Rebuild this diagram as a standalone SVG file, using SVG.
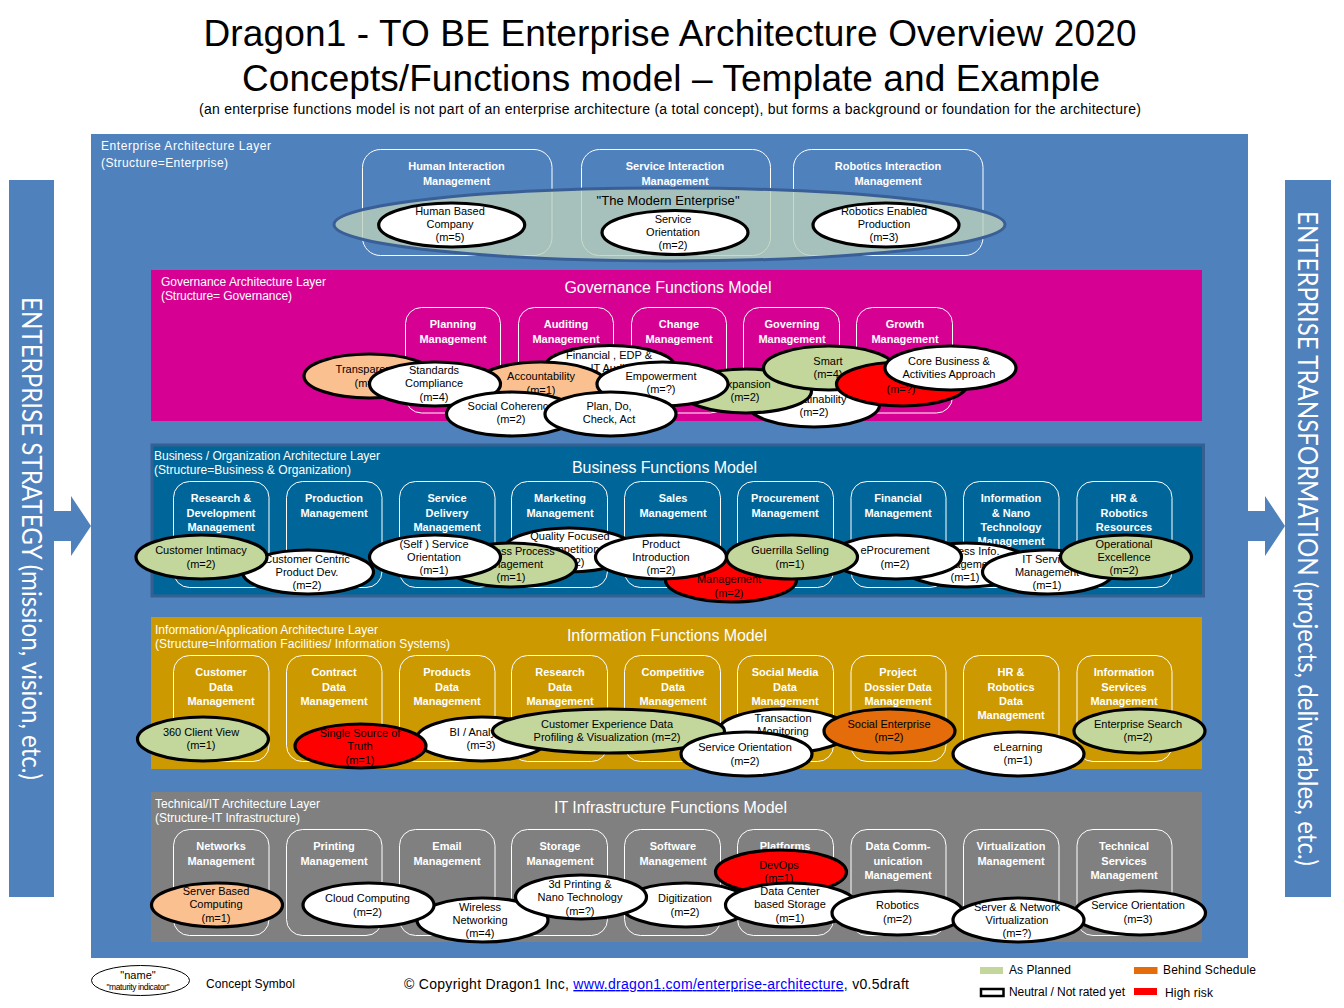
<svg xmlns="http://www.w3.org/2000/svg" width="1344" height="1008" viewBox="0 0 1344 1008">
<style>
text{font-family:"Liberation Sans",Arial,sans-serif}
.m{text-anchor:middle}
.ll{font-size:12px;fill:#fff}
.mt{font-size:16px;fill:#fff;text-anchor:middle}
.ft{font-size:11px;font-weight:bold;fill:#fff;text-anchor:middle}
.ct{font-size:11px;fill:#000;text-anchor:middle}
.fb{fill:none;stroke:#fff;stroke-width:1}
.c{stroke:#000;stroke-width:3.2}
.w{fill:#fff}.g{fill:#c3d69b}.p{fill:#fac090}.r{fill:#f00}.o{fill:#e46c0a}
.sb{fill:#4f81bd}
.st{font-family:Lato,"Liberation Sans",sans-serif;font-size:26px;fill:#fff}
.lg{font-size:12px;fill:#000}
</style>
<text x="670" y="46" class="m" font-size="37" textLength="933">Dragon1 - TO BE Enterprise Architecture Overview 2020</text>
<text x="671" y="91" class="m" font-size="37" textLength="858">Concepts/Functions model – Template and Example</text>
<text x="670" y="114" class="m" font-size="14" textLength="942">(an enterprise functions model is not part of an enterprise architecture (a total concept), but forms a background or foundation for the architecture)</text>

<rect class="sb" x="91" y="134" width="1157" height="824"/>
<g id="strategy"><rect class="sb" x="9" y="180" width="45" height="717"/><text class="st" transform="translate(22 297) rotate(90)" textLength="483" lengthAdjust="spacingAndGlyphs">ENTERPRISE STRATEGY (mission, vision, etc.)</text></g>
<g id="transformation"><rect class="sb" x="1285" y="180" width="46" height="717"/><text class="st" transform="translate(1298 211) rotate(90)" textLength="655" lengthAdjust="spacingAndGlyphs">ENTERPRISE TRANSFORMATION (projects, deliverables, etc.)</text></g>
<g id="connectors">
<polygon class="sb" points="54,511 71,511 71,496 91,526 71,556 71,541 54,541"/>
<polygon class="sb" points="1248,511 1265,511 1265,496 1285,526 1265,556 1265,541 1248,541"/>
</g>

<!-- Enterprise layer -->
<g id="enterprise-layer">
<text class="ll" x="101" y="150" textLength="170">Enterprise Architecture Layer</text>
<text class="ll" x="101" y="167" textLength="127">(Structure=Enterprise)</text>
<g id="f-human"><rect class="fb" x="362.5" y="149.5" width="189.5" height="106" rx="18"/><text class="ft"><tspan x="456.5" y="170">Human Interaction</tspan><tspan x="456.5" y="185">Management</tspan></text></g>
<g id="f-service"><rect class="fb" x="581.5" y="149.5" width="189" height="106" rx="18"/><text class="ft"><tspan x="675" y="170">Service Interaction</tspan><tspan x="675" y="185">Management</tspan></text></g>
<g id="f-robotics"><rect class="fb" x="793.5" y="149.5" width="189.5" height="106" rx="18"/><text class="ft"><tspan x="888" y="170">Robotics Interaction</tspan><tspan x="888" y="185">Management</tspan></text></g>
<g id="modern-enterprise"><ellipse cx="669.5" cy="224.5" rx="335.5" ry="36.5" fill="#bcd1bb" fill-opacity=".8" stroke="#3a5f96" stroke-width="3"/><text x="668" y="205" class="m" font-size="13" textLength="143">"The Modern Enterprise"</text></g>
<g id="c-human-company"><ellipse class="c w" cx="451.7" cy="225" rx="73" ry="22"/><text class="ct"><tspan x="450" y="215">Human Based</tspan><tspan x="450" y="228">Company</tspan><tspan x="450" y="241">(m=5)</tspan></text></g>
<g id="c-service-orientation"><ellipse class="c w" cx="675" cy="232.5" rx="73" ry="22"/><text class="ct"><tspan x="673" y="223">Service</tspan><tspan x="673" y="236">Orientation</tspan><tspan x="673" y="249">(m=2)</tspan></text></g>
<g id="c-robotics-production"><ellipse class="c w" cx="886" cy="225" rx="73" ry="22"/><text class="ct"><tspan x="884" y="215">Robotics Enabled</tspan><tspan x="884" y="228">Production</tspan><tspan x="884" y="241">(m=3)</tspan></text></g>
</g>

<!-- Governance layer -->
<g id="governance-layer">
<rect x="151" y="270" width="1051" height="151" fill="#d60093"/>
<text class="ll" x="161" y="286" textLength="165">Governance Architecture Layer</text>
<text class="ll" x="161" y="300" textLength="131">(Structure= Governance)</text>
<text class="mt" x="668" y="293" textLength="207">Governance Functions Model</text>
<g id="f-planning"><rect class="fb" x="405.5" y="307.5" width="95" height="105.5" rx="16"/><text class="ft"><tspan x="453" y="328">Planning</tspan><tspan x="453" y="343">Management</tspan></text></g>
<g id="f-auditing"><rect class="fb" x="518.5" y="307.5" width="95" height="105.5" rx="16"/><text class="ft"><tspan x="566" y="328">Auditing</tspan><tspan x="566" y="343">Management</tspan></text></g>
<g id="f-change"><rect class="fb" x="631.5" y="307.5" width="95" height="105.5" rx="16"/><text class="ft"><tspan x="679" y="328">Change</tspan><tspan x="679" y="343">Management</tspan></text></g>
<g id="f-governing"><rect class="fb" x="743.5" y="307.5" width="96" height="105.5" rx="16"/><text class="ft"><tspan x="792" y="328">Governing</tspan><tspan x="792" y="343">Management</tspan></text></g>
<g id="f-growth"><rect class="fb" x="856.5" y="307.5" width="96" height="105.5" rx="16"/><text class="ft"><tspan x="905" y="328">Growth</tspan><tspan x="905" y="343">Management</tspan></text></g>
<g id="c-transparency"><ellipse class="c p" cx="369.5" cy="376" rx="65.5" ry="22"/><text class="ct"><tspan x="369" y="373">Transparency</tspan><tspan x="369" y="387">(m=1)</tspan></text></g>
<g id="c-financial"><ellipse class="c w" cx="610" cy="367.5" rx="65.5" ry="22"/><text class="ct"><tspan x="609" y="359">Financial , EDP  &amp;</tspan><tspan x="609" y="372">IT Audit</tspan></text></g>
<g id="c-accountability"><ellipse class="c p" cx="541" cy="384" rx="65.5" ry="22"/><text class="ct"><tspan x="541" y="380">Accountability</tspan><tspan x="541" y="394">(m=1)</tspan></text></g>
<g id="c-standards"><ellipse class="c w" cx="435" cy="384" rx="65.5" ry="22"/><text class="ct"><tspan x="434" y="374">Standards</tspan><tspan x="434" y="387">Compliance</tspan><tspan x="434" y="401">(m=4)</tspan></text></g>
<g id="c-sustainability"><ellipse class="c w" cx="814" cy="405" rx="65.5" ry="22"/><text class="ct"><tspan x="814" y="403">Sustainability</tspan><tspan x="814" y="416">(m=2)</tspan></text></g>
<g id="c-expansion"><ellipse class="c g" cx="746" cy="391" rx="65.5" ry="22"/><text class="ct"><tspan x="745" y="388">Expansion</tspan><tspan x="745" y="401">(m=2)</tspan></text></g>
<g id="c-empowerment"><ellipse class="c w" cx="662.5" cy="384" rx="65.5" ry="22"/><text class="ct"><tspan x="661" y="380">Empowerment</tspan><tspan x="661" y="393">(m=?)</tspan></text></g>
<g id="c-social-coherence"><ellipse class="c w" cx="512" cy="414" rx="65.5" ry="22"/><text class="ct"><tspan x="511" y="410">Social Coherence</tspan><tspan x="511" y="423">(m=2)</tspan></text></g>
<g id="c-plan-do"><ellipse class="c w" cx="610.5" cy="414" rx="65.5" ry="22"/><text class="ct"><tspan x="609" y="410">Plan, Do,</tspan><tspan x="609" y="423">Check, Act</tspan></text></g>
<g id="c-smart"><ellipse class="c g" cx="829" cy="368" rx="65.5" ry="22"/><text class="ct"><tspan x="828" y="365">Smart</tspan><tspan x="828" y="378">(m=4)</tspan></text></g>
<g id="c-growth-risk"><ellipse class="c r" cx="902" cy="384" rx="65.5" ry="22"/><text class="ct"><tspan x="901" y="393">(m=?)</tspan></text></g>
<g id="c-core"><ellipse class="c w" cx="950.5" cy="368" rx="65.5" ry="22"/><text class="ct"><tspan x="949" y="365">Core Business &amp;</tspan><tspan x="949" y="378">Activities Approach</tspan></text></g>
</g>

<!-- Business layer -->
<g id="business-layer">
<rect x="152" y="445" width="1051.5" height="151" fill="#006699" stroke="#376092" stroke-width="3"/>
<text class="ll" x="154" y="460" textLength="226">Business / Organization Architecture Layer</text>
<text class="ll" x="154" y="474" textLength="197">(Structure=Business &amp; Organization)</text>
<text class="mt" x="664.5" y="473" textLength="185">Business Functions Model</text>
<g id="f-rd"><rect class="fb" x="173.5" y="481.5" width="95.5" height="106" rx="16"/><text class="ft"><tspan x="221" y="502">Research &amp;</tspan><tspan x="221" y="517">Development</tspan><tspan x="221" y="531">Management</tspan></text></g>
<g id="f-production"><rect class="fb" x="286.5" y="481.5" width="95.5" height="106" rx="16"/><text class="ft"><tspan x="334" y="502">Production</tspan><tspan x="334" y="517">Management</tspan></text></g>
<g id="f-delivery"><rect class="fb" x="399.5" y="481.5" width="95.5" height="106" rx="16"/><text class="ft"><tspan x="447" y="502">Service</tspan><tspan x="447" y="517">Delivery</tspan><tspan x="447" y="531">Management</tspan></text></g>
<g id="f-marketing"><rect class="fb" x="511.5" y="481.5" width="96" height="106" rx="16"/><text class="ft"><tspan x="560" y="502">Marketing</tspan><tspan x="560" y="517">Management</tspan></text></g>
<g id="f-sales"><rect class="fb" x="624.5" y="481.5" width="96" height="106" rx="16"/><text class="ft"><tspan x="673" y="502">Sales</tspan><tspan x="673" y="517">Management</tspan></text></g>
<g id="f-procurement"><rect class="fb" x="737.5" y="481.5" width="96" height="106" rx="16"/><text class="ft"><tspan x="785" y="502">Procurement</tspan><tspan x="785" y="517">Management</tspan></text></g>
<g id="f-financial"><rect class="fb" x="851" y="481.5" width="95" height="106" rx="16"/><text class="ft"><tspan x="898" y="502">Financial</tspan><tspan x="898" y="517">Management</tspan></text></g>
<g id="f-infotech"><rect class="fb" x="963.5" y="481.5" width="95.5" height="106" rx="16"/><text class="ft"><tspan x="1011" y="502">Information</tspan><tspan x="1011" y="517">&amp; Nano</tspan><tspan x="1011" y="531">Technology</tspan><tspan x="1011" y="545">Management</tspan></text></g>
<g id="f-hr"><rect class="fb" x="1077" y="481.5" width="95" height="106" rx="16"/><text class="ft"><tspan x="1124" y="502">HR &amp;</tspan><tspan x="1124" y="517">Robotics</tspan><tspan x="1124" y="531">Resources</tspan></text></g>
<g id="c-centric"><ellipse class="c w" cx="308" cy="572" rx="65.5" ry="22"/><text class="ct"><tspan x="307" y="563">Customer Centric</tspan><tspan x="307" y="576">Product Dev.</tspan><tspan x="307" y="589">(m=2)</tspan></text></g>
<g id="c-intimacy"><ellipse class="c g" cx="201.5" cy="557" rx="65.5" ry="22"/><text class="ct"><tspan x="201" y="554">Customer Intimacy</tspan><tspan x="201" y="568">(m=2)</tspan></text></g>
<g id="c-quality"><ellipse class="c w" cx="569" cy="550" rx="65.5" ry="22"/><text class="ct"><tspan x="570" y="540">Quality Focused</tspan><tspan x="570" y="553">Competition</tspan><tspan x="570" y="566">(m=2)</tspan></text></g>
<g id="c-bpm"><ellipse class="c g" cx="511" cy="565" rx="65.5" ry="22"/><text class="ct"><tspan x="511" y="555">Business Process</tspan><tspan x="511" y="568">Management</tspan><tspan x="511" y="581">(m=1)</tspan></text></g>
<g id="c-self-service"><ellipse class="c w" cx="435" cy="557" rx="65.5" ry="22"/><text class="ct"><tspan x="434" y="548">(Self ) Service</tspan><tspan x="434" y="561">Orientation</tspan><tspan x="434" y="574">(m=1)</tspan></text></g>
<g id="c-sales-risk"><ellipse class="c r" cx="731" cy="580" rx="65.5" ry="22"/><text class="ct"><tspan x="729" y="583">Management</tspan><tspan x="729" y="597">(m=2)</tspan></text></g>
<g id="c-product-intro"><ellipse class="c w" cx="661" cy="557" rx="65.5" ry="22"/><text class="ct"><tspan x="661" y="548">Product</tspan><tspan x="661" y="561">Introduction</tspan><tspan x="661" y="574">(m=2)</tspan></text></g>
<g id="c-info-mgmt"><ellipse class="c w" cx="966" cy="565" rx="65.5" ry="22"/><text class="ct"><tspan x="965" y="555">Business Info.</tspan><tspan x="965" y="568">Management</tspan><tspan x="965" y="581">(m=1)</tspan></text></g>
<g id="c-eprocurement"><ellipse class="c w" cx="896" cy="557" rx="65.5" ry="22"/><text class="ct"><tspan x="895" y="554">eProcurement</tspan><tspan x="895" y="568">(m=2)</tspan></text></g>
<g id="c-guerrilla"><ellipse class="c g" cx="792" cy="557" rx="65.5" ry="22"/><text class="ct"><tspan x="790" y="554">Guerrilla Selling</tspan><tspan x="790" y="568">(m=1)</tspan></text></g>
<g id="c-it-service"><ellipse class="c w" cx="1048" cy="572" rx="65.5" ry="22"/><text class="ct"><tspan x="1047" y="563">IT Service</tspan><tspan x="1047" y="576">Management</tspan><tspan x="1047" y="589">(m=1)</tspan></text></g>
<g id="c-excellence"><ellipse class="c g" cx="1126" cy="557" rx="65.5" ry="22"/><text class="ct"><tspan x="1124" y="548">Operational</tspan><tspan x="1124" y="561">Excellence</tspan><tspan x="1124" y="574">(m=2)</tspan></text></g>
</g>

<!-- Information layer -->
<g id="information-layer">
<rect x="151" y="617" width="1051" height="152" fill="#cc9900"/>
<text class="ll" x="155" y="634" textLength="223">Information/Application Architecture Layer</text>
<text class="ll" x="155" y="648" textLength="295">(Structure=Information Facilities/ Information Systems)</text>
<text class="mt" x="667" y="641" textLength="200">Information Functions Model</text>
<g id="f-customer-data"><rect class="fb" x="173.5" y="655.5" width="95.5" height="106" rx="16"/><text class="ft"><tspan x="221" y="676">Customer</tspan><tspan x="221" y="691">Data</tspan><tspan x="221" y="705">Management</tspan></text></g>
<g id="f-contract-data"><rect class="fb" x="286.5" y="655.5" width="95.5" height="106" rx="16"/><text class="ft"><tspan x="334" y="676">Contract</tspan><tspan x="334" y="691">Data</tspan><tspan x="334" y="705">Management</tspan></text></g>
<g id="f-products-data"><rect class="fb" x="399.5" y="655.5" width="95.5" height="106" rx="16"/><text class="ft"><tspan x="447" y="676">Products</tspan><tspan x="447" y="691">Data</tspan><tspan x="447" y="705">Management</tspan></text></g>
<g id="f-research-data"><rect class="fb" x="511.5" y="655.5" width="96" height="106" rx="16"/><text class="ft"><tspan x="560" y="676">Research</tspan><tspan x="560" y="691">Data</tspan><tspan x="560" y="705">Management</tspan></text></g>
<g id="f-competitive-data"><rect class="fb" x="624.5" y="655.5" width="96" height="106" rx="16"/><text class="ft"><tspan x="673" y="676">Competitive</tspan><tspan x="673" y="691">Data</tspan><tspan x="673" y="705">Management</tspan></text></g>
<g id="f-social-data"><rect class="fb" x="737.5" y="655.5" width="96" height="106" rx="16"/><text class="ft"><tspan x="785" y="676">Social Media</tspan><tspan x="785" y="691">Data</tspan><tspan x="785" y="705">Management</tspan></text></g>
<g id="f-dossier-data"><rect class="fb" x="851" y="655.5" width="95" height="106" rx="16"/><text class="ft"><tspan x="898" y="676">Project</tspan><tspan x="898" y="691">Dossier Data</tspan><tspan x="898" y="705">Management</tspan></text></g>
<g id="f-hr-data"><rect class="fb" x="963.5" y="655.5" width="95.5" height="106" rx="16"/><text class="ft"><tspan x="1011" y="676">HR &amp;</tspan><tspan x="1011" y="691">Robotics</tspan><tspan x="1011" y="705">Data</tspan><tspan x="1011" y="719">Management</tspan></text></g>
<g id="f-info-services"><rect class="fb" x="1077" y="655.5" width="95" height="106" rx="16"/><text class="ft"><tspan x="1124" y="676">Information</tspan><tspan x="1124" y="691">Services</tspan><tspan x="1124" y="705">Management</tspan></text></g>
<g id="c-360"><ellipse class="c g" cx="203" cy="739" rx="65.5" ry="22"/><text class="ct"><tspan x="201" y="736">360 Client View</tspan><tspan x="201" y="749">(m=1)</tspan></text></g>
<g id="c-bi"><ellipse class="c w" cx="482" cy="739" rx="65.5" ry="22"/><text class="ct"><tspan x="481" y="736">BI / Analytics</tspan><tspan x="481" y="749">(m=3)</tspan></text></g>
<g id="c-single-source"><ellipse class="c r" cx="360.5" cy="746" rx="65.5" ry="22"/><text class="ct"><tspan x="360" y="737">Single Source of</tspan><tspan x="360" y="750">Truth</tspan><tspan x="360" y="764">(m=1)</tspan></text></g>
<g id="c-transaction"><ellipse class="c w" cx="784" cy="731" rx="65.5" ry="22"/><text class="ct"><tspan x="783" y="722">Transaction</tspan><tspan x="783" y="735">Monitoring</tspan></text></g>
<g id="c-cx-data"><ellipse class="c g" cx="608.5" cy="731" rx="116" ry="22"/><text class="ct"><tspan x="607" y="728">Customer Experience Data</tspan><tspan x="607" y="741">Profiling &amp; Visualization (m=2)</tspan></text></g>
<g id="c-service-orient"><ellipse class="c w" cx="746.5" cy="754" rx="65.5" ry="22"/><text class="ct"><tspan x="745" y="751">Service Orientation</tspan><tspan x="745" y="765">(m=2)</tspan></text></g>
<g id="c-social-enterprise"><ellipse class="c o" cx="889.5" cy="731" rx="65.5" ry="22"/><text class="ct"><tspan x="889" y="728">Social Enterprise</tspan><tspan x="889" y="741">(m=2)</tspan></text></g>
<g id="c-elearning"><ellipse class="c w" cx="1018.5" cy="754" rx="65.5" ry="22"/><text class="ct"><tspan x="1018" y="751">eLearning</tspan><tspan x="1018" y="764">(m=1)</tspan></text></g>
<g id="c-search"><ellipse class="c g" cx="1139.5" cy="731" rx="65.5" ry="22"/><text class="ct"><tspan x="1138" y="728">Enterprise Search</tspan><tspan x="1138" y="741">(m=2)</tspan></text></g>
</g>

<!-- Technical layer -->
<g id="technical-layer">
<rect x="151" y="792" width="1051" height="150" fill="#808080"/>
<text class="ll" x="155" y="808" textLength="165">Technical/IT Architecture Layer</text>
<text class="ll" x="155" y="822" textLength="145">(Structure-IT Infrastructure)</text>
<text class="mt" x="670.5" y="813" textLength="233">IT Infrastructure  Functions Model</text>
<g id="f-networks"><rect class="fb" x="173.5" y="829.5" width="95.5" height="106" rx="16"/><text class="ft"><tspan x="221" y="850">Networks</tspan><tspan x="221" y="865">Management</tspan></text></g>
<g id="f-printing"><rect class="fb" x="286.5" y="829.5" width="95.5" height="106" rx="16"/><text class="ft"><tspan x="334" y="850">Printing</tspan><tspan x="334" y="865">Management</tspan></text></g>
<g id="f-email"><rect class="fb" x="399.5" y="829.5" width="95.5" height="106" rx="16"/><text class="ft"><tspan x="447" y="850">Email</tspan><tspan x="447" y="865">Management</tspan></text></g>
<g id="f-storage"><rect class="fb" x="511.5" y="829.5" width="96" height="106" rx="16"/><text class="ft"><tspan x="560" y="850">Storage</tspan><tspan x="560" y="865">Management</tspan></text></g>
<g id="f-software"><rect class="fb" x="624.5" y="829.5" width="96" height="106" rx="16"/><text class="ft"><tspan x="673" y="850">Software</tspan><tspan x="673" y="865">Management</tspan></text></g>
<g id="f-platforms"><rect class="fb" x="737.5" y="829.5" width="96" height="106" rx="16"/><text class="ft"><tspan x="785" y="850">Platforms</tspan></text></g>
<g id="f-datacomm"><rect class="fb" x="851" y="829.5" width="95" height="106" rx="16"/><text class="ft"><tspan x="898" y="850">Data Comm-</tspan><tspan x="898" y="865">unication</tspan><tspan x="898" y="879">Management</tspan></text></g>
<g id="f-virtualization"><rect class="fb" x="963.5" y="829.5" width="95.5" height="106" rx="16"/><text class="ft"><tspan x="1011" y="850">Virtualization</tspan><tspan x="1011" y="865">Management</tspan></text></g>
<g id="f-tech-services"><rect class="fb" x="1077" y="829.5" width="95" height="106" rx="16"/><text class="ft"><tspan x="1124" y="850">Technical</tspan><tspan x="1124" y="865">Services</tspan><tspan x="1124" y="879">Management</tspan></text></g>
<g id="c-server-based"><ellipse class="c p" cx="217" cy="905" rx="65.5" ry="22"/><text class="ct"><tspan x="216" y="895">Server Based</tspan><tspan x="216" y="908">Computing</tspan><tspan x="216" y="922">(m=1)</tspan></text></g>
<g id="c-wireless"><ellipse class="c w" cx="482.5" cy="920" rx="65.5" ry="22"/><text class="ct"><tspan x="480" y="911">Wireless</tspan><tspan x="480" y="924">Networking</tspan><tspan x="480" y="937">(m=4)</tspan></text></g>
<g id="c-cloud"><ellipse class="c w" cx="368.5" cy="905" rx="65.5" ry="22"/><text class="ct"><tspan x="367.5" y="902">Cloud Computing</tspan><tspan x="367.5" y="916">(m=2)</tspan></text></g>
<g id="c-digitization"><ellipse class="c w" cx="686" cy="905" rx="65.5" ry="22"/><text class="ct"><tspan x="685" y="902">Digitization</tspan><tspan x="685" y="916">(m=2)</tspan></text></g>
<g id="c-3d"><ellipse class="c w" cx="581" cy="897" rx="65.5" ry="22"/><text class="ct"><tspan x="580" y="888">3d Printing &amp;</tspan><tspan x="580" y="901">Nano Technology</tspan><tspan x="580" y="915">(m=?)</tspan></text></g>
<g id="c-devops"><ellipse class="c r" cx="781" cy="872" rx="65.5" ry="22"/><text class="ct"><tspan x="779" y="869">DevOps</tspan><tspan x="779" y="882">(m=1)</tspan></text></g>
<g id="c-datacenter"><ellipse class="c w" cx="791" cy="905" rx="65.5" ry="22"/><text class="ct"><tspan x="790" y="895">Data Center</tspan><tspan x="790" y="908">based Storage</tspan><tspan x="790" y="922">(m=1)</tspan></text></g>
<g id="c-robotics"><ellipse class="c w" cx="897.5" cy="913" rx="65.5" ry="22"/><text class="ct"><tspan x="897.5" y="909">Robotics</tspan><tspan x="897.5" y="923">(m=2)</tspan></text></g>
<g id="c-tech-service"><ellipse class="c w" cx="1140" cy="913" rx="65.5" ry="22"/><text class="ct"><tspan x="1138" y="909">Service Orientation</tspan><tspan x="1138" y="923">(m=3)</tspan></text></g>
<g id="c-virtual"><ellipse class="c w" cx="1018.5" cy="920" rx="65.5" ry="22"/><text class="ct"><tspan x="1017" y="911">Server &amp; Network</tspan><tspan x="1017" y="924">Virtualization</tspan><tspan x="1017" y="937">(m=?)</tspan></text></g>
</g>

<!-- Footer -->
<g id="concept-symbol"><ellipse cx="140.5" cy="980.5" rx="49" ry="15" fill="#fff" stroke="#000" stroke-width="1"/><text class="m" x="138" y="979" font-size="11">"name"</text><text class="m" x="138" y="990" font-size="8.5" textLength="63">"maturity indicator"</text></g>
<text class="lg" x="206" y="988" textLength="89">Concept Symbol</text>
<text x="404" y="989" font-size="14" textLength="505">© Copyright Dragon1 Inc, <tspan fill="#0000ff" text-decoration="underline">www.dragon1.com/enterprise-architecture</tspan>, v0.5draft</text>
<g id="legend">
<rect x="980" y="967" width="23" height="7" fill="#c3d69b"/><text class="lg" x="1009" y="974" textLength="62">As Planned</text>
<rect x="1134" y="967" width="23.5" height="7" fill="#e46c0a"/><text class="lg" x="1163" y="974" textLength="93">Behind Schedule</text>
<rect x="981" y="989" width="22.5" height="7" fill="#fff" stroke="#000" stroke-width="2.5"/><text class="lg" x="1009" y="996" textLength="116">Neutral / Not rated yet</text>
<rect x="1134" y="988" width="23" height="7" fill="#f00"/><text class="lg" x="1165" y="997" textLength="48">High risk</text>
</g>
</svg>
